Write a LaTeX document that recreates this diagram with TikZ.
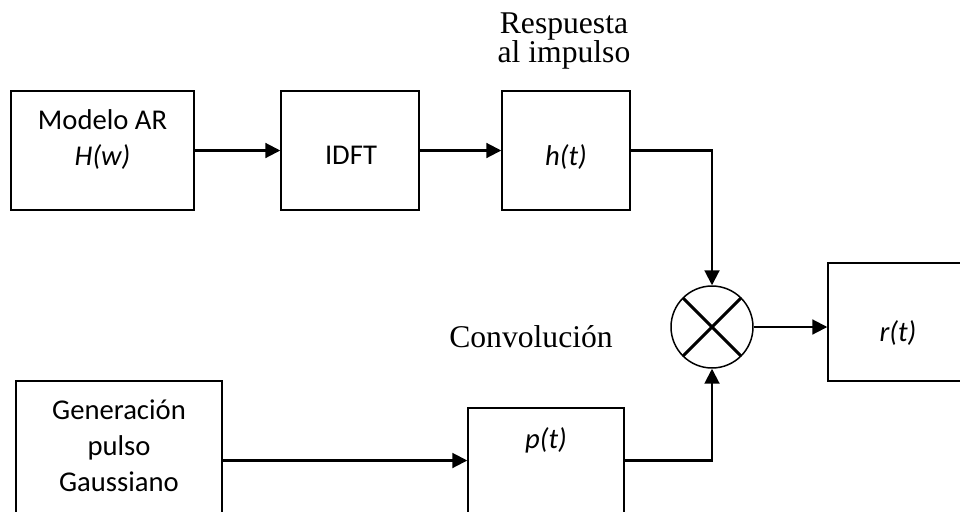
\documentclass[tikz,border=0pt]{standalone}
\usepackage{fontspec}
\setmainfont{Carlito}
\newfontfamily\timesfont{Liberation Serif}
\usetikzlibrary{arrows.meta}
\tikzstyle{module} = [rectangle, draw=black, line width=0.85pt, inner sep=0pt]
\tikzstyle{mixer} = [circle, draw=black, line width=0.85pt, inner sep=0pt, minimum size=1.64cm, path picture={\draw[line width=1.7pt] (path picture bounding box.north west) -- (path picture bounding box.south east) (path picture bounding box.north east) -- (path picture bounding box.south west);}]
\tikzstyle{signal} = [draw=black, line width=1.15pt, -{Triangle[length=8.5pt, width=8.5pt]}]
\tikzstyle{boxtext} = [font=\fontsize{16.3}{20.4}\selectfont, align=center]
\tikzstyle{caption} = [font=\timesfont\fontsize{18}{17}\selectfont, align=center]

\begin{document}
\begin{tikzpicture}[x=0.02cm, y=-0.02cm]
\useasboundingbox (0,0) rectangle (960,511);
\clip (0,0) rectangle (960,511);

% Upper chain: AR model to impulse response
\node (armodel) [module, minimum width=3.66cm, minimum height=2.38cm, label={[boxtext, yshift=0.216cm]center:{Modelo AR\\\textit{H(w)}}}] at (102.5,150.5) {};
\node (idft) [module, minimum width=2.76cm, minimum height=2.38cm, label={[boxtext, yshift=-0.10cm, xshift=0.02cm]center:IDFT}] at (350,150.5) {};
\node (impulse) [module, minimum width=2.56cm, minimum height=2.38cm, label={[boxtext, yshift=-0.13cm]center:\textit{h(t)}}] at (566,150.5) {};
\node (respuesta) [caption] at (564,41) {Respuesta\\al impulso};

% Lower chain: Gaussian pulse
\node (gauss) [module, minimum width=4.12cm, minimum height=3.18cm, label={[boxtext, yshift=0.30cm]center:{Generación\\pulso\\Gaussiano}}] at (119,460.5) {};
\node (pulse) [module, minimum width=3.12cm, minimum height=2.1cm, label={[boxtext, yshift=0.41cm]center:\textit{p(t)}}] at (546,460.5) {};

% Convolution and output
\node (conv) [mixer] at (712,327) {};
\node (convlabel) [caption] at (531,336.5) {Convolución};
\node (result) [module, minimum width=2.68cm, minimum height=2.36cm, label={[boxtext, yshift=-0.22cm, xshift=0.06cm]center:\textit{r(t)}}] at (895,322) {};

% Connections
\draw [signal] (armodel.east) -- (idft.west);
\draw [signal] (idft.east) -- (impulse.west);
\draw [signal] (impulse.east) -| (conv.north);
\draw [signal] (gauss.east) -- (pulse.west);
\draw [signal] (pulse.east) -| (conv.south);
\draw [signal] (conv.east) -- (conv.east -| result.west);

\end{tikzpicture}
\end{document}
